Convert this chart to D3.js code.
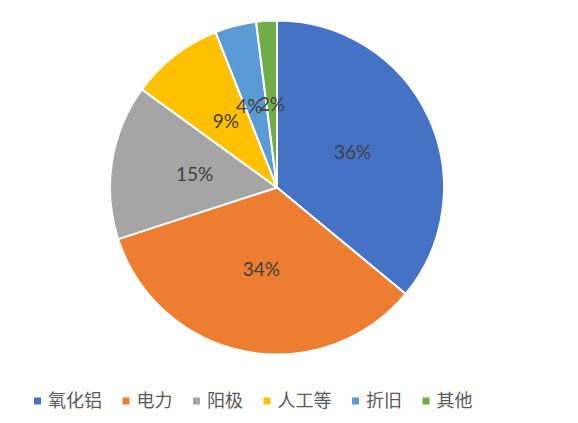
<!DOCTYPE html>
<html><head><meta charset="utf-8">
<script src="https://cdn.jsdelivr.net/npm/d3@7"></script>
<style>body{margin:0;background:#fff;}svg{display:block;}</style>
</head><body>
<svg id="c" width="578" height="423"></svg>
<script>
const categories = ["氧化铝","电力","阳极","人工等","折旧","其他"];
const values = [36, 34, 15, 9, 4, 2];
const colors = ["#4472C4","#ED7D31","#A5A5A5","#FFC000","#5B9BD5","#70AD47"];

const svg = d3.select("#c");
const cx = 277, cy = 187.5, R = 167;
const data = categories.map((c,i)=>({cat:c, v:values[i], col:colors[i]}));
const pie = d3.pie().sort(null).value(d=>d.v);
const arcs = pie(data);
const arc = d3.arc().innerRadius(0).outerRadius(R);
const labelArc = d3.arc().innerRadius(R*0.5).outerRadius(R*0.5);
const g = svg.append("g").attr("transform",`translate(${cx},${cy})`);
g.selectAll("path").data(arcs).join("path")
  .attr("d",arc).attr("fill",d=>d.data.col)
  .attr("stroke","#fff").attr("stroke-width",2).attr("stroke-linejoin","round");
const total = d3.sum(values);
// small horizontal nudge for the crowded "折旧" label, as in the reference
const nudge = {"折旧": -7};
g.selectAll("text").data(arcs).join("text")
  .attr("transform",d=>{const c = labelArc.centroid(d); return `translate(${c[0]+(nudge[d.data.cat]||0)},${c[1]})`;})
  .attr("text-anchor","middle").attr("dy","0.35em")
  .attr("font-family","Lato, 'Liberation Sans', sans-serif").attr("font-size",19)
  .attr("fill","#404040")
  .text(d=>Math.round(d.data.v/total*100)+"%");

// legend
const lg = svg.append("g").attr("font-family","'Noto Sans CJK SC', sans-serif").attr("font-size",18).attr("fill","#595959");
let x = 34;
const ly = 401;
data.forEach(d=>{
  lg.append("rect").attr("x",x).attr("y",ly-3.5).attr("width",7).attr("height",7).attr("fill",d.col);
  const t = lg.append("text").attr("x",x+14).attr("y",ly).attr("dy","0.35em").text(d.cat);
  const w = t.node().getComputedTextLength();
  x = x + 14 + w + 20.5;
});
</script>
</body></html>
